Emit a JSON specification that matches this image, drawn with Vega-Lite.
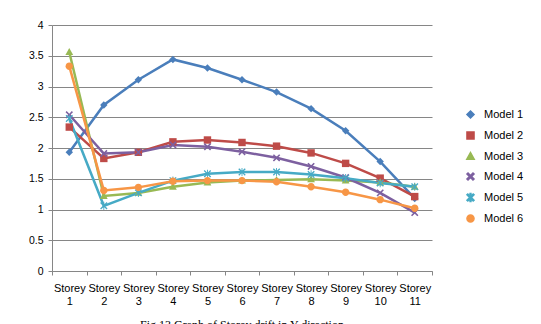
{
  "$schema": "https://vega.github.io/schema/vega-lite/v6.json",
  "autosize": "none",
  "width": 380,
  "height": 246,
  "padding": {"left": 52, "top": 25, "right": 109, "bottom": 53},
  "background": "white",
  "title": {
    "text": "Fig.13 Graph of Storey drift in Y-direction",
    "orient": "bottom",
    "anchor": "middle",
    "font": "Liberation Serif",
    "fontSize": 12,
    "fontWeight": "normal",
    "color": "#000000",
    "offset": 14
  },
  "config": {
    "view": {"stroke": null},
    "font": "Liberation Sans Narrow, Liberation Sans",
    "axis": {
      "labelFont": "Liberation Sans Narrow, Liberation Sans",
      "labelColor": "#000000",
      "domainColor": "#868686",
      "tickColor": "#868686",
      "gridColor": "#868686",
      "titleFontSize": 0
    },
    "legend": {
      "symbolSize": 50,
      "symbolOpacity": 1,
      "labelFont": "Liberation Sans Narrow, Liberation Sans",
      "labelFontSize": 11,
      "labelColor": "#000000"
    }
  },
  "data": {
    "values": [
      {"storey": "Storey 1", "model": "Model 1", "drift": 1.93},
      {"storey": "Storey 2", "model": "Model 1", "drift": 2.70},
      {"storey": "Storey 3", "model": "Model 1", "drift": 3.11},
      {"storey": "Storey 4", "model": "Model 1", "drift": 3.44},
      {"storey": "Storey 5", "model": "Model 1", "drift": 3.30},
      {"storey": "Storey 6", "model": "Model 1", "drift": 3.11},
      {"storey": "Storey 7", "model": "Model 1", "drift": 2.91},
      {"storey": "Storey 8", "model": "Model 1", "drift": 2.64},
      {"storey": "Storey 9", "model": "Model 1", "drift": 2.28},
      {"storey": "Storey 10", "model": "Model 1", "drift": 1.78},
      {"storey": "Storey 11", "model": "Model 1", "drift": 1.18},

      {"storey": "Storey 1", "model": "Model 2", "drift": 2.34},
      {"storey": "Storey 2", "model": "Model 2", "drift": 1.83},
      {"storey": "Storey 3", "model": "Model 2", "drift": 1.93},
      {"storey": "Storey 4", "model": "Model 2", "drift": 2.10},
      {"storey": "Storey 5", "model": "Model 2", "drift": 2.13},
      {"storey": "Storey 6", "model": "Model 2", "drift": 2.09},
      {"storey": "Storey 7", "model": "Model 2", "drift": 2.03},
      {"storey": "Storey 8", "model": "Model 2", "drift": 1.92},
      {"storey": "Storey 9", "model": "Model 2", "drift": 1.75},
      {"storey": "Storey 10", "model": "Model 2", "drift": 1.51},
      {"storey": "Storey 11", "model": "Model 2", "drift": 1.21},

      {"storey": "Storey 1", "model": "Model 3", "drift": 3.56},
      {"storey": "Storey 2", "model": "Model 3", "drift": 1.22},
      {"storey": "Storey 3", "model": "Model 3", "drift": 1.27},
      {"storey": "Storey 4", "model": "Model 3", "drift": 1.37},
      {"storey": "Storey 5", "model": "Model 3", "drift": 1.44},
      {"storey": "Storey 6", "model": "Model 3", "drift": 1.47},
      {"storey": "Storey 7", "model": "Model 3", "drift": 1.48},
      {"storey": "Storey 8", "model": "Model 3", "drift": 1.49},
      {"storey": "Storey 9", "model": "Model 3", "drift": 1.47},
      {"storey": "Storey 10", "model": "Model 3", "drift": 1.44},
      {"storey": "Storey 11", "model": "Model 3", "drift": 1.37},

      {"storey": "Storey 1", "model": "Model 4", "drift": 2.54},
      {"storey": "Storey 2", "model": "Model 4", "drift": 1.91},
      {"storey": "Storey 3", "model": "Model 4", "drift": 1.93},
      {"storey": "Storey 4", "model": "Model 4", "drift": 2.05},
      {"storey": "Storey 5", "model": "Model 4", "drift": 2.02},
      {"storey": "Storey 6", "model": "Model 4", "drift": 1.94},
      {"storey": "Storey 7", "model": "Model 4", "drift": 1.84},
      {"storey": "Storey 8", "model": "Model 4", "drift": 1.70},
      {"storey": "Storey 9", "model": "Model 4", "drift": 1.52},
      {"storey": "Storey 10", "model": "Model 4", "drift": 1.27},
      {"storey": "Storey 11", "model": "Model 4", "drift": 0.95},

      {"storey": "Storey 1", "model": "Model 5", "drift": 2.48},
      {"storey": "Storey 2", "model": "Model 5", "drift": 1.06},
      {"storey": "Storey 3", "model": "Model 5", "drift": 1.27},
      {"storey": "Storey 4", "model": "Model 5", "drift": 1.47},
      {"storey": "Storey 5", "model": "Model 5", "drift": 1.58},
      {"storey": "Storey 6", "model": "Model 5", "drift": 1.61},
      {"storey": "Storey 7", "model": "Model 5", "drift": 1.61},
      {"storey": "Storey 8", "model": "Model 5", "drift": 1.57},
      {"storey": "Storey 9", "model": "Model 5", "drift": 1.51},
      {"storey": "Storey 10", "model": "Model 5", "drift": 1.43},
      {"storey": "Storey 11", "model": "Model 5", "drift": 1.37},

      {"storey": "Storey 1", "model": "Model 6", "drift": 3.33},
      {"storey": "Storey 2", "model": "Model 6", "drift": 1.31},
      {"storey": "Storey 3", "model": "Model 6", "drift": 1.36},
      {"storey": "Storey 4", "model": "Model 6", "drift": 1.46},
      {"storey": "Storey 5", "model": "Model 6", "drift": 1.47},
      {"storey": "Storey 6", "model": "Model 6", "drift": 1.47},
      {"storey": "Storey 7", "model": "Model 6", "drift": 1.45},
      {"storey": "Storey 8", "model": "Model 6", "drift": 1.37},
      {"storey": "Storey 9", "model": "Model 6", "drift": 1.28},
      {"storey": "Storey 10", "model": "Model 6", "drift": 1.16},
      {"storey": "Storey 11", "model": "Model 6", "drift": 1.02}
    ]
  },
  "encoding": {
    "x": {
      "field": "storey",
      "type": "nominal",
      "sort": null,
      "scale": {"type": "band", "paddingInner": 0, "paddingOuter": 0},
      "axis": {
        "title": null,
        "labelAngle": 0,
        "labelExpr": "split(datum.label, ' ')",
        "labelFontSize": 11,
        "labelLineHeight": 13,
        "labelPadding": 7,
        "tickBand": "extent",
        "tickSize": 4,
        "domainColor": "#868686"
      }
    },
    "y": {
      "field": "drift",
      "type": "quantitative",
      "scale": {"domain": [0, 4]},
      "axis": {
        "title": null,
        "values": [0, 0.5, 1, 1.5, 2, 2.5, 3, 3.5, 4],
        "format": "~g",
        "labelFontSize": 10.5,
        "labelPadding": 5,
        "tickSize": 4,
        "grid": true,
        "gridColor": "#868686"
      }
    },
    "color": {
      "field": "model",
      "type": "nominal",
      "scale": {
        "domain": ["Model 1", "Model 2", "Model 3", "Model 4", "Model 5", "Model 6"],
        "range": ["#4A7EBB", "#BE4B48", "#98B954", "#7D60A0", "#46AAC5", "#F79646"]
      },
      "legend": {
        "title": null,
        "orient": "none",
        "legendX": 413,
        "legendY": 84,
        "labelOffset": 8,
        "rowPadding": 6
      }
    }
  },
  "layer": [
    {
      "mark": {"type": "line", "strokeWidth": 2.5}
    },
    {
      "mark": {"type": "point", "filled": true, "opacity": 1, "size": 55},
      "encoding": {
        "shape": {
          "field": "model",
          "type": "nominal",
          "scale": {
            "domain": ["Model 1", "Model 2", "Model 3", "Model 4", "Model 5", "Model 6"],
            "range": [
              "M0,-1L1,0L0,1L-1,0Z",
              "M-1,-1H1V1H-1Z",
              "M0,-1.1L1.05,0.8H-1.05Z",
              "M-1,-0.7L-0.7,-1L0,-0.3L0.7,-1L1,-0.7L0.3,0L1,0.7L0.7,1L0,0.3L-0.7,1L-1,0.7L-0.3,0Z",
              "M-1,-0.75L-0.75,-1L-0.12,-0.37V-1.1H0.12V-0.37L0.75,-1L1,-0.75L0.25,0L1,0.75L0.75,1L0.12,0.37V1.1H-0.12V0.37L-0.75,1L-1,0.75L-0.25,0Z",
              "M-1,0A1,1 0 1,1 1,0A1,1 0 1,1 -1,0Z"
            ]
          },
          "legend": {
            "title": null,
            "orient": "none",
            "legendX": 413,
            "legendY": 84,
            "labelOffset": 8,
            "rowPadding": 6
          }
        }
      }
    }
  ]
}
